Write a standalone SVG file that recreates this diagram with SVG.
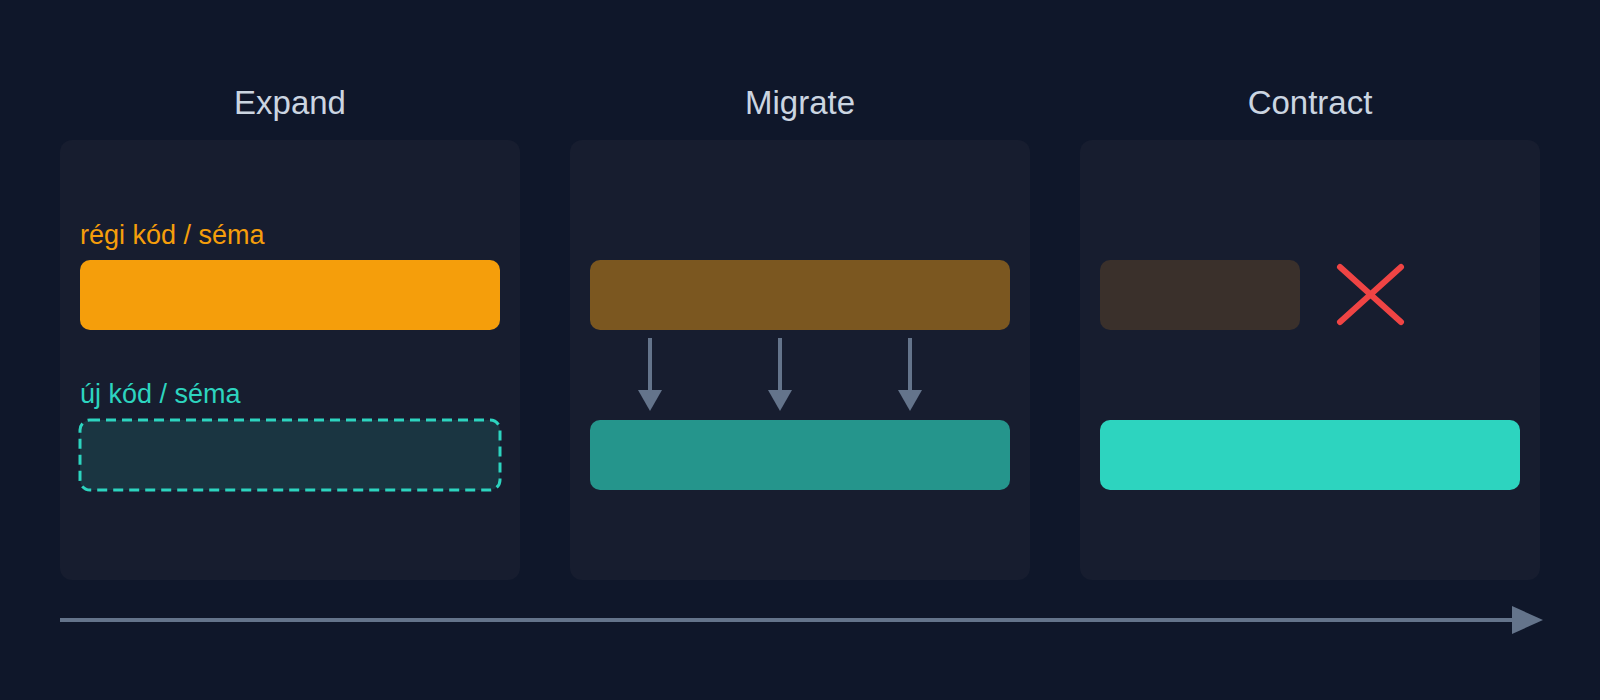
<svg xmlns="http://www.w3.org/2000/svg" width="1600" height="700" viewBox="0 0 1600 700">
  <style>
    .title { font-family: "Liberation Sans", Arial, sans-serif; font-size: 33px; fill: #cbd5e1; text-anchor: middle; }
    .label { font-family: "Liberation Sans", Arial, sans-serif; font-size: 27px; }
    .panel { fill: #171d2f; }
    .arrow { stroke: #64748b; stroke-width: 4; fill: none; }
  </style>
  <defs>
    <marker id="headDown" markerUnits="userSpaceOnUse" markerWidth="24" markerHeight="22" refX="12" refY="0" orient="0" viewBox="0 0 24 22">
      <path d="M0,0 L24,0 L12,21 Z" fill="#64748b"/>
    </marker>
  </defs>
  <rect x="0" y="0" width="1600" height="700" fill="#0f172a"/>

  <g id="expand">
    <text class="title" x="290" y="114">Expand</text>
    <rect class="panel" x="60" y="140" width="460" height="440" rx="12"/>
    <text class="label" x="80" y="244" fill="#f59e0b">régi kód / séma</text>
    <rect x="80" y="260" width="420" height="70" rx="10" fill="#f59e0b"/>
    <text class="label" x="80" y="403" fill="#2dd4bf">új kód / séma</text>
    <rect x="80" y="420" width="420" height="70" rx="10" fill="#1a3541" stroke="#2dd4bf" stroke-width="3" stroke-dasharray="10 6"/>
  </g>

  <g id="migrate">
    <text class="title" x="800" y="114">Migrate</text>
    <rect class="panel" x="570" y="140" width="460" height="440" rx="12"/>
    <rect x="590" y="260" width="420" height="70" rx="10" fill="#7b5720"/>
    <rect x="590" y="420" width="420" height="70" rx="10" fill="#25958c"/>
  </g>

  <g id="contract">
    <text class="title" x="1310" y="114">Contract</text>
    <rect class="panel" x="1080" y="140" width="460" height="440" rx="12"/>
    <rect x="1100" y="260" width="200" height="70" rx="10" fill="#3a302b"/>
    <path d="M1340,267 L1401,322 M1401,267 L1340,322" stroke="#ef4444" stroke-width="6" stroke-linecap="round" fill="none"/>
    <rect x="1100" y="420" width="420" height="70" rx="10" fill="#2dd4bf"/>
  </g>

  <g id="connectors">
    <path class="arrow" d="M650,338 L650,390" marker-end="url(#headDown)"/>
    <path class="arrow" d="M780,338 L780,390" marker-end="url(#headDown)"/>
    <path class="arrow" d="M910,338 L910,390" marker-end="url(#headDown)"/>
    <line x1="60" y1="620" x2="1513" y2="620" stroke="#64748b" stroke-width="4"/>
    <path d="M1512,606 L1543,620 L1512,634 Z" fill="#64748b"/>
  </g>
</svg>
